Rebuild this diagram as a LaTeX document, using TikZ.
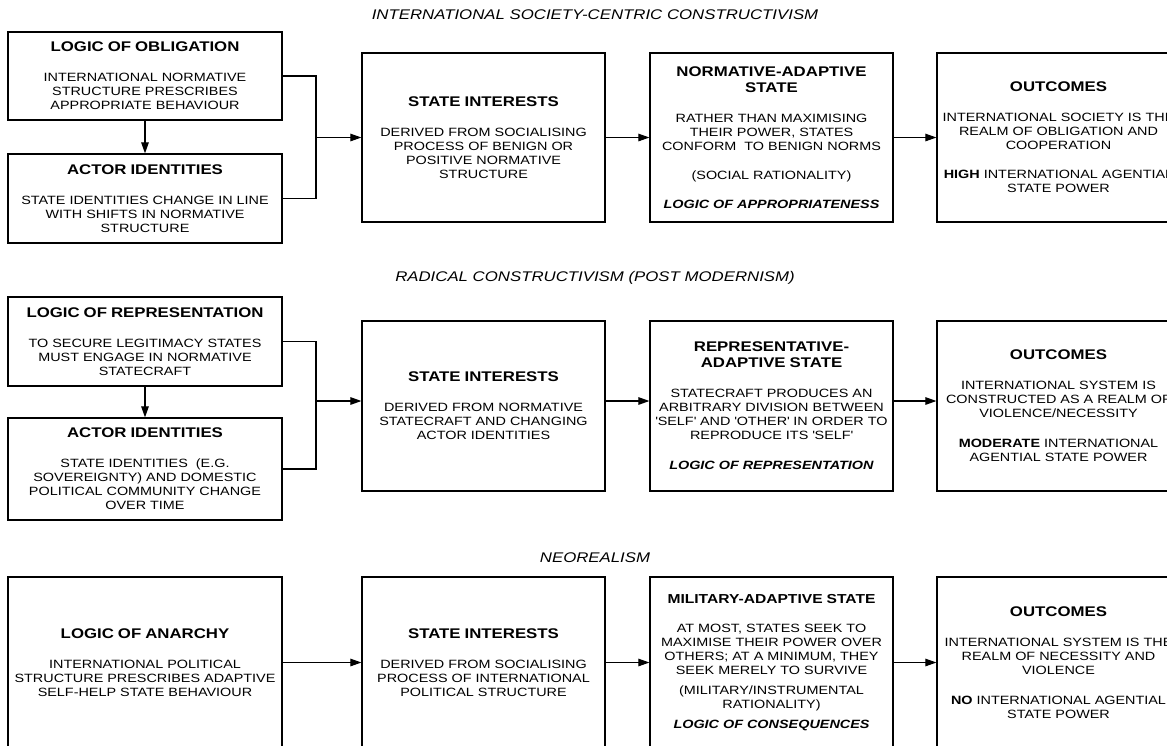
\documentclass[tikz,border=0pt]{standalone}
\usepackage{fontspec}
\setmainfont[FakeStretch=1.2]{Liberation Sans}
\usetikzlibrary{arrows.meta}
\newcommand{\hd}{\fontsize{14}{16}\selectfont\bfseries}
\newcommand{\hdm}{\fontsize{13}{15}\selectfont\bfseries}
\newcommand{\bi}[1]{\textbf{\textit{#1}}}
\newcommand{\sq}{\textquotesingle}
\tikzset{
  box/.style={draw, line width=1.2pt, inner xsep=0pt, inner ysep=0pt, align=center,
    font=\fontsize{12}{14}\selectfont, text width=#1},
  box/.default=243pt,
  conn/.style={line width=1.1pt},
  arr/.style={line width=1.1pt, -{Triangle[length=11pt,width=7.5pt]}},
  ttl/.style={font=\fontsize{14}{16}\selectfont\itshape, inner sep=0pt}
}
\begin{document}
\begin{tikzpicture}[x=1pt,y=-1pt]
\useasboundingbox (0,0) rectangle (1167,745);
\clip (0,0) rectangle (1167,745);

% titles
\node[ttl] (t1) at (595,14.5) {INTERNATIONAL SOCIETY-CENTRIC CONSTRUCTIVISM};
\node[ttl] (t2) at (595,278) {RADICAL CONSTRUCTIVISM (POST MODERNISM)};
\node[ttl] (t3) at (595,558) {NEOREALISM};

% row 1
\node[box=274pt, minimum height=88pt] (ob) at (145,76)
 {{\hd LOGIC OF OBLIGATION\par}\vspace{16pt}INTERNATIONAL NORMATIVE\\STRUCTURE PRESCRIBES\\APPROPRIATE BEHAVIOUR};
\node[box=274pt, minimum height=89pt] (ai1) at (145,198.5)
 {{\hd ACTOR IDENTITIES\par}\vspace{16pt}STATE IDENTITIES CHANGE IN LINE\\WITH SHIFTS IN NORMATIVE\\STRUCTURE};
\node[box, minimum height=169pt] (si1) at (483.5,137.5)
 {{\hd STATE INTERESTS\par}\vspace{16pt}DERIVED FROM SOCIALISING\\PROCESS OF BENIGN OR\\POSITIVE NORMATIVE\\STRUCTURE};
\node[box, minimum height=169pt] (na) at (771.5,137.5)
 {{\hd NORMATIVE-ADAPTIVE\\STATE\par}\vspace{16pt}RATHER THAN MAXIMISING\\THEIR POWER, STATES\\CONFORM~ TO BENIGN NORMS\par\vspace{15pt}(SOCIAL RATIONALITY)\par\vspace{15pt}\bi{LOGIC OF APPROPRIATENESS}};
\node[box, minimum height=169pt] (oc1) at (1058.5,137.5)
 {{\hd OUTCOMES\par}\vspace{16pt}INTERNATIONAL SOCIETY IS THE\\REALM OF OBLIGATION AND\\COOPERATION\par\vspace{15pt}\textbf{HIGH} INTERNATIONAL AGENTIAL\\STATE POWER};

\coordinate (j1) at (316,137.5);
\draw[arr] (ob.south) -- (ai1.north);
\draw[conn] (ob.east) -| (j1) |- (ai1.east);
\draw[arr] (j1) -- (si1.west);
\draw[arr] (si1.east) -- (na.west);
\draw[arr] (na.east) -- (oc1.west);

% row 2
\node[box=274pt, minimum height=89pt] (lr) at (145,341.5)
 {{\hd LOGIC OF REPRESENTATION\par}\vspace{16pt}TO SECURE LEGITIMACY STATES\\MUST ENGAGE IN NORMATIVE\\STATECRAFT};
\node[box=274pt, minimum height=102pt] (ai2) at (145,469)
 {{\hd ACTOR IDENTITIES\par}\vspace{16pt}STATE IDENTITIES~ (E.G.\\SOVEREIGNTY) AND DOMESTIC\\POLITICAL COMMUNITY CHANGE\\OVER TIME};
\node[box, minimum height=170pt] (si2) at (483.5,406)
 {{\hd STATE INTERESTS\par}\vspace{16pt}DERIVED FROM NORMATIVE\\STATECRAFT AND CHANGING\\ACTOR IDENTITIES};
\node[box, minimum height=170pt] (ra) at (771.5,406)
 {{\hd REPRESENTATIVE-\\ADAPTIVE STATE\par}\vspace{16pt}STATECRAFT PRODUCES AN\\ARBITRARY DIVISION BETWEEN\\\sq SELF\sq{} AND \sq OTHER\sq{} IN ORDER TO\\REPRODUCE ITS \sq SELF\sq\par\vspace{16pt}\bi{LOGIC OF REPRESENTATION}};
\node[box, minimum height=170pt] (oc2) at (1058.5,406)
 {{\hd OUTCOMES\par}\vspace{16pt}INTERNATIONAL SYSTEM IS\\CONSTRUCTED AS A REALM OF\\VIOLENCE/NECESSITY\par\vspace{16pt}\textbf{MODERATE} INTERNATIONAL\\AGENTIAL STATE POWER};

\coordinate (j2) at (316,401);
\draw[arr] (lr.south) -- (ai2.north);
\draw[conn] (lr.east) -| (j2) |- (ai2.east);
\draw[arr] (j2) -- (j2 -| si2.west);
\draw[arr] (si2.east |- j2) -- (ra.west |- j2);
\draw[arr] (ra.east |- j2) -- (oc2.west |- j2);

% row 3
\node[box=274pt, minimum height=171pt] (la) at (145,662.5)
 {{\hd LOGIC OF ANARCHY\par}\vspace{16pt}INTERNATIONAL POLITICAL\\STRUCTURE PRESCRIBES ADAPTIVE\\SELF-HELP STATE BEHAVIOUR};
\node[box, minimum height=171pt] (si3) at (483.5,662.5)
 {{\hd STATE INTERESTS\par}\vspace{16pt}DERIVED FROM SOCIALISING\\PROCESS OF INTERNATIONAL\\POLITICAL STRUCTURE};
\node[box, minimum height=171pt] (ma) at (771.5,662.5)
 {{\hdm MILITARY-ADAPTIVE STATE\par}\vspace{15pt}AT MOST, STATES SEEK TO\\MAXIMISE THEIR POWER OVER\\OTHERS; AT A MINIMUM, THEY\\SEEK MERELY TO SURVIVE\par\vspace{6pt}(MILITARY/INSTRUMENTAL\\RATIONALITY)\par\vspace{6pt}\bi{LOGIC OF CONSEQUENCES}};
\node[box, minimum height=171pt] (oc3) at (1058.5,662.5)
 {{\hd OUTCOMES\par}\vspace{16pt}INTERNATIONAL SYSTEM IS THE\\REALM OF NECESSITY AND\\VIOLENCE\par\vspace{16pt}\textbf{NO} INTERNATIONAL AGENTIAL\\STATE POWER};

\draw[arr] (la.east) -- (si3.west);
\draw[arr] (si3.east) -- (ma.west);
\draw[arr] (ma.east) -- (oc3.west);
\end{tikzpicture}
\end{document}
